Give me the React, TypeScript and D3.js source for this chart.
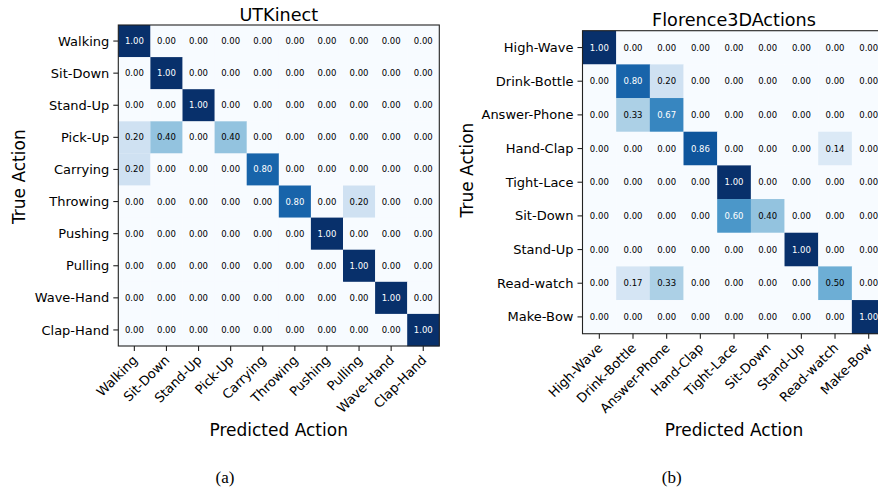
import React from "react";
import * as d3 from "d3";

const utkClasses = ["Walking", "Sit-Down", "Stand-Up", "Pick-Up", "Carrying", "Throwing", "Pushing", "Pulling", "Wave-Hand", "Clap-Hand"];
const utkMatrix = [
  [1.0, 0, 0, 0, 0, 0, 0, 0, 0, 0],
  [0, 1.0, 0, 0, 0, 0, 0, 0, 0, 0],
  [0, 0, 1.0, 0, 0, 0, 0, 0, 0, 0],
  [0.2, 0.4, 0, 0.4, 0, 0, 0, 0, 0, 0],
  [0.2, 0, 0, 0, 0.8, 0, 0, 0, 0, 0],
  [0, 0, 0, 0, 0, 0.8, 0, 0.2, 0, 0],
  [0, 0, 0, 0, 0, 0, 1.0, 0, 0, 0],
  [0, 0, 0, 0, 0, 0, 0, 1.0, 0, 0],
  [0, 0, 0, 0, 0, 0, 0, 0, 1.0, 0],
  [0, 0, 0, 0, 0, 0, 0, 0, 0, 1.0],
];

const florenceClasses = ["High-Wave", "Drink-Bottle", "Answer-Phone", "Hand-Clap", "Tight-Lace", "Sit-Down", "Stand-Up", "Read-watch", "Make-Bow"];
const florenceMatrix = [
  [1.0, 0, 0, 0, 0, 0, 0, 0, 0],
  [0, 0.8, 0.2, 0, 0, 0, 0, 0, 0],
  [0, 0.33, 0.67, 0, 0, 0, 0, 0, 0],
  [0, 0, 0, 0.86, 0, 0, 0, 0.14, 0],
  [0, 0, 0, 0, 1.0, 0, 0, 0, 0],
  [0, 0, 0, 0, 0.6, 0.4, 0, 0, 0],
  [0, 0, 0, 0, 0, 0, 1.0, 0, 0],
  [0, 0.17, 0.33, 0, 0, 0, 0, 0.5, 0],
  [0, 0, 0, 0, 0, 0, 0, 0, 1.0],
];

const titles = ["UTKinect", "Florence3DActions"];
const captions = ["(a)", "(b)"];
const xLabel = "Predicted Action";
const yLabel = "True Action";

const FONT = "DejaVu Sans, Verdana, sans-serif";
const color = d3.scaleSequential(d3.interpolateBlues).domain([0, 1]);

type PanelProps = {
  classes: string[];
  matrix: number[][];
  left: number;
  top: number;
  cell: number;
  title: string;
  caption: string;
  titleY: number;
  yLabelX: number;
  yLabelY: number;
  xLabelX: number;
  captionX: number;
};

function Panel(p: PanelProps) {
  const n = p.classes.length;
  const size = n * p.cell;
  const x = d3.scaleBand<string>().domain(p.classes).range([p.left, p.left + size]);
  const y = d3.scaleBand<string>().domain(p.classes).range([p.top, p.top + size]);
  const bw = x.bandwidth();
  const tickLen = 5;
  const bottom = p.top + size;
  return (
    <g>
      {p.matrix.map((row, i) =>
        row.map((v, j) => (
          <rect
            key={`c${i}-${j}`}
            x={x(p.classes[j])!}
            y={y(p.classes[i])!}
            width={bw + 0.3}
            height={bw + 0.3}
            fill={color(v)}
          />
        ))
      )}
      {p.matrix.map((row, i) =>
        row.map((v, j) => (
          <text
            key={`t${i}-${j}`}
            x={x(p.classes[j])! + bw / 2}
            y={y(p.classes[i])! + bw / 2}
            dy="0.35em"
            textAnchor="middle"
            fontSize={8.5}
            fontFamily={FONT}
            fill={v > 0.5 ? "#ffffff" : "#000000"}
          >
            {v.toFixed(2)}
          </text>
        ))
      )}
      <rect x={p.left} y={p.top} width={size} height={size} fill="none" stroke="#222" strokeWidth={1.1} />
      {p.classes.map((c) => (
        <g key={`y${c}`}>
          <line x1={p.left - tickLen} x2={p.left} y1={y(c)! + bw / 2} y2={y(c)! + bw / 2} stroke="#222" strokeWidth={1.1} />
          <text x={p.left - tickLen - 4} y={y(c)! + bw / 2} dy="0.35em" textAnchor="end" fontSize={13} fontFamily={FONT} fill="#000">
            {c}
          </text>
        </g>
      ))}
      {p.classes.map((c) => {
        const cx = x(c)! + bw / 2;
        const ex = cx + 4;
        const ey = bottom + tickLen + 10;
        return (
          <g key={`x${c}`}>
            <line x1={cx} x2={cx} y1={bottom} y2={bottom + tickLen} stroke="#222" strokeWidth={1.1} />
            <text
              x={ex}
              y={ey}
              textAnchor="end"
              fontSize={13}
              fontFamily={FONT}
              fill="#000"
              transform={`rotate(-45 ${ex} ${ey})`}
            >
              {c}
            </text>
          </g>
        );
      })}
      <text x={p.left + size / 2} y={p.titleY} textAnchor="middle" fontSize={17.6} fontFamily={FONT} fill="#000">
        {p.title}
      </text>
      <text x={p.xLabelX} y={436} textAnchor="middle" fontSize={17} fontFamily={FONT} fill="#000">
        {xLabel}
      </text>
      <text
        x={p.yLabelX}
        y={p.yLabelY}
        textAnchor="middle"
        fontSize={17}
        fontFamily={FONT}
        fill="#000"
        transform={`rotate(-90 ${p.yLabelX} ${p.yLabelY})`}
      >
        {yLabel}
      </text>
      <text x={p.captionX} y={483} textAnchor="middle" fontSize={17} fontFamily="Liberation Serif, Times New Roman, serif" fill="#000">
        {p.caption}
      </text>
    </g>
  );
}

export default function App() {
  return (
    <svg
      width={878}
      height={494}
      viewBox="0 0 878 494"
      style={{ position: "absolute", left: 0, top: 0, background: "#fff" }}
    >
      <rect x={0} y={0} width={878} height={494} fill="#fff" />
      <Panel
        classes={utkClasses}
        matrix={utkMatrix}
        left={118.3}
        top={25}
        cell={32.1}
        title={titles[0]}
        caption={captions[0]}
        titleY={20.7}
        yLabelX={25}
        yLabelY={176.7}
        xLabelX={278.7}
        captionX={225}
      />
      <Panel
        classes={florenceClasses}
        matrix={florenceMatrix}
        left={582.5}
        top={30.7}
        cell={33.67}
        title={titles[1]}
        caption={captions[1]}
        titleY={26}
        yLabelX={473.3}
        yLabelY={170}
        xLabelX={734}
        captionX={671.7}
      />
    </svg>
  );
}
